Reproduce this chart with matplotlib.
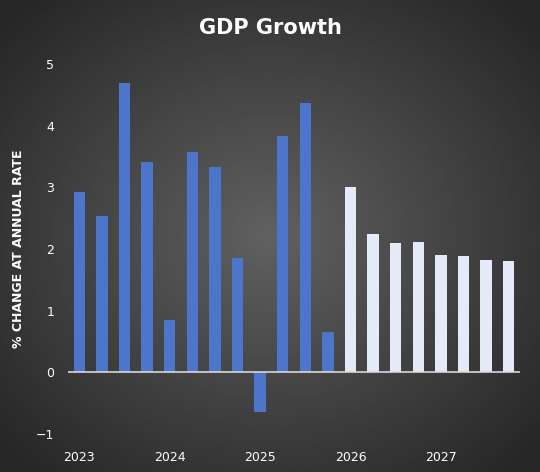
import numpy as np
import matplotlib.pyplot as plt

# quarterly GDP growth, 2023Q1 .. 2027Q4
values = [2.93, 2.53, 4.70, 3.42, 0.85, 3.58, 3.33, 1.85,
          -0.65, 3.83, 4.37, 0.65,
          3.00, 2.25, 2.10, 2.12, 1.90, 1.88, 1.82, 1.80]
forecast = [False] * 12 + [True] * 8
years = ['2023', '2024', '2025', '2026', '2027']

fig = plt.figure(figsize=(5.4, 4.72), dpi=100)

# dark radial background
bg = fig.add_axes([0, 0, 1, 1])
yy, xx = np.mgrid[-1:1:300j, -1:1:300j]
r = np.sqrt(xx**2 + yy**2)
bg.imshow(np.clip(0.38 - 0.17 * r, 0.15, 0.4), cmap='gray', vmin=0, vmax=1,
          extent=[0, 1, 0, 1], aspect='auto')
bg.axis('off')

ax = fig.add_axes([0.126, 0.0805, 0.837, 0.7835])
ax.patch.set_alpha(0)
x = np.arange(len(values))
colors = ['#e4eaf7' if f else '#4d75cc' for f in forecast]
ax.bar(x, values, width=0.5, color=colors, zorder=2)
ax.axhline(0, color='#d8d8d8', lw=1.2, zorder=3)

ax.set_xlim(-0.5, 19.5)
ax.set_ylim(-1, 5)
ax.set_yticks(range(-1, 6))
ax.set_xticks(x[::4])
ax.set_xticklabels(years)
ax.tick_params(colors='white', length=0, labelsize=9)
ax.tick_params(axis='y', pad=10)
ax.tick_params(axis='x', pad=12)
for s in ax.spines.values():
    s.set_visible(False)
ax.set_ylabel('% CHANGE AT ANNUAL RATE', color='white', fontsize=9,
              fontweight='bold', labelpad=8)
fig.text(0.5, 0.94, 'GDP Growth', color='white', fontsize=15,
         fontweight='bold', ha='center', va='center')

fig.savefig('out.png', dpi=100)
